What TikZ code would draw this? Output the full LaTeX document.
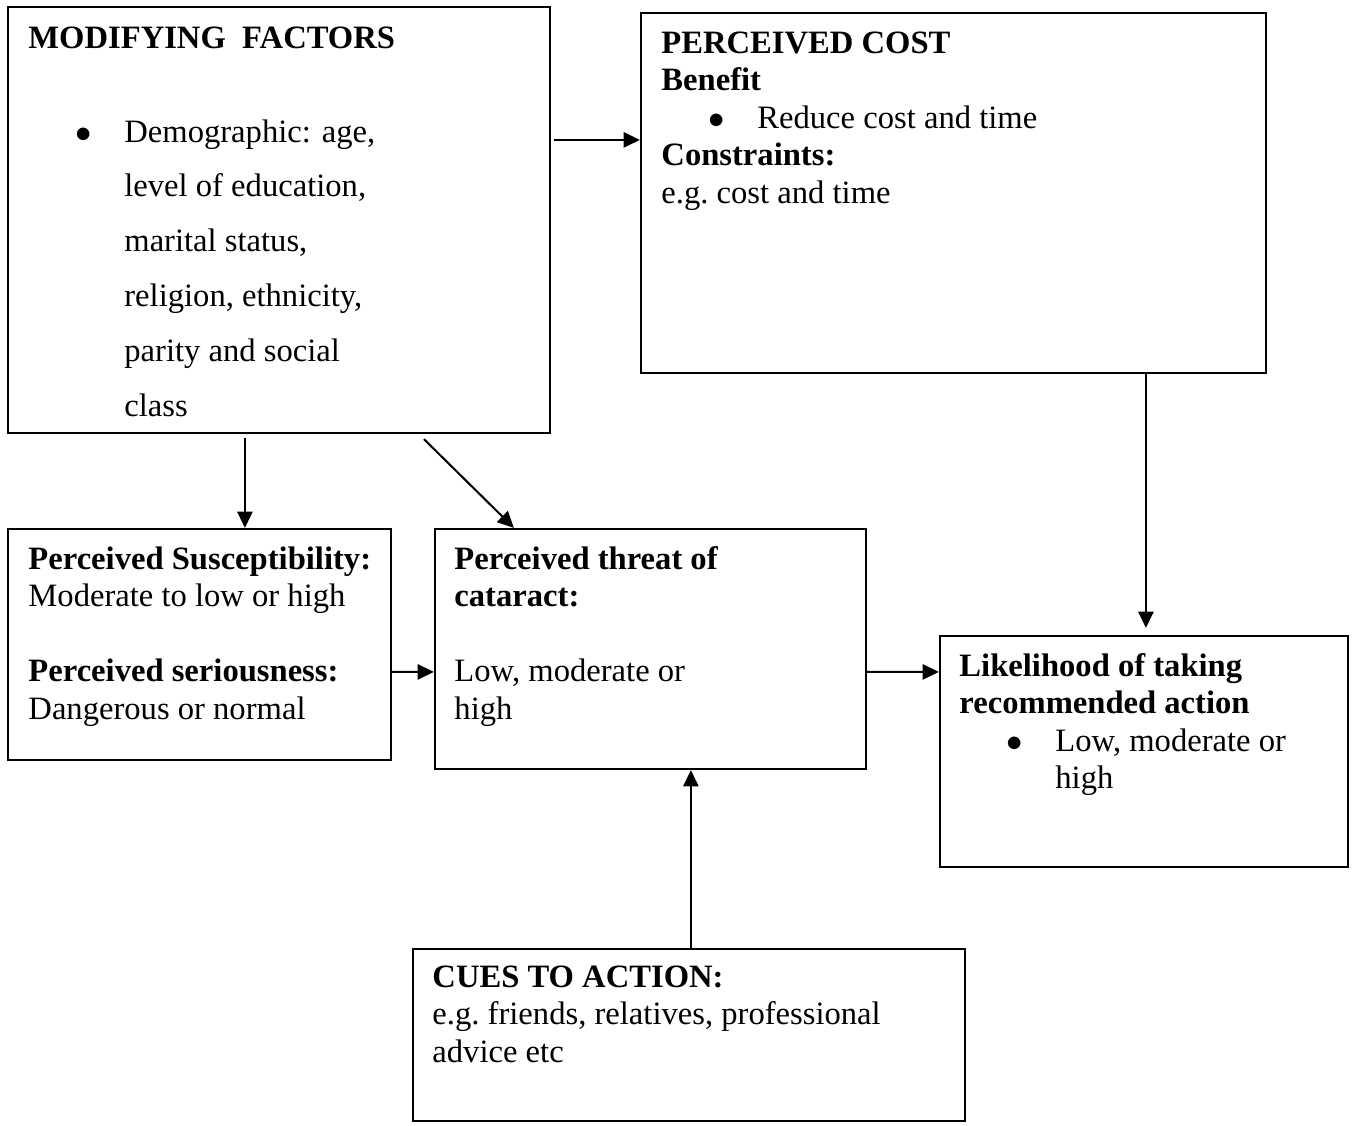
\documentclass[tikz,border=0pt]{standalone}
\usepackage{fontspec}
\setmainfont{Liberation Serif}
\usepackage{tikz}
\usetikzlibrary{arrows.meta,positioning,fit}
\newcommand{\bul}{\hspace*{17.2pt}\makebox[18.1pt][l]{$\bullet$}}
\newcommand{\hang}{\hspace*{35.3pt}}

\begin{document}
\begin{tikzpicture}[
  x=0.368pt, y=-0.368pt,
  every node/.style={font=\fontsize{12}{13.8}\selectfont},
  box/.style={rectangle, draw, line width=0.8pt, inner sep=0pt},
  txt/.style={anchor=north west, inner sep=0pt, align=left},
  arr/.style={-{Triangle[length=6pt,width=5.6pt]}, line width=0.75pt}
]
\path[use as bounding box] (0,0) rectangle (1355,1125);

% ---- Top row: factors and cost ----
\node[box, fit={(8,7)(550,433)}] (mod) {};
\node[txt, font=\fontsize{12}{20.2}\selectfont] (modtxt) at ([shift={(21,20)}]mod.north west)
  {\textbf{MODIFYING\ \ FACTORS}\\[14.4pt]
   \bul Demographic: age,\\ \hang level of education,\\ \hang marital status,\\
   \hang religion, ethnicity,\\ \hang parity and social\\ \hang class};

\node[box, fit={(641,13)(1266,373)}] (cost) {};
\node[txt] (costtxt) at ([shift={(21,19)}]cost.north west)
  {\textbf{PERCEIVED COST}\\ \textbf{Benefit}\\ \bul Reduce cost and time\\
   \textbf{Constraints:}\\ e.g.\ cost and time};

% ---- Middle row: perceptions and likelihood ----
\node[box, fit={(8,529)(391,760)}] (susc) {};
\node[txt] (susctxt) at ([shift={(21,18)}]susc.north west)
  {\textbf{Perceived Susceptibility:}\\ Moderate to low or high\\[13.8pt]
   \textbf{Perceived seriousness:}\\ Dangerous or normal};

\node[box, fit={(435,529)(866,769)}] (threat) {};
\node[txt] (threattxt) at ([shift={(20,18)}]threat.north west)
  {\textbf{Perceived threat of}\\ \textbf{cataract:}\\[13.8pt] Low, moderate or\\ high};

\node[box, fit={(940,636)(1348,867)}] (lik) {};
\node[txt] (liktxt) at ([shift={(20,18)}]lik.north west)
  {\textbf{Likelihood of taking}\\ \textbf{recommended action}\\
   \bul Low, moderate or\\ \hang high};

% ---- Bottom row: cues ----
\node[box, fit={(413,949)(965,1121)}] (cues) {};
\node[txt] (cuestxt) at ([shift={(20,17)}]cues.north west)
  {\textbf{CUES TO ACTION:}\\ e.g.\ friends, relatives, professional\\ advice etc};

% ---- Arrows ----
\draw[arr] ([shift={(3,134)}]mod.north east) -- ([shift={(0,128)}]cost.north west);
\draw[arr] ([shift={(238,4)}]mod.south west) -- ([shift={(238,0)}]susc.north west);
\draw[arr] ([shift={(417,5)}]mod.south west) -- ([shift={(80,0)}]threat.north west);
\draw[arr] ([shift={(0,144)}]susc.north east) -- ([shift={(0,144)}]threat.north west);
\draw[arr] ([shift={(0,144)}]threat.north east) -- ([shift={(0,37)}]lik.north west);
\draw[arr] ([shift={(506,0)}]cost.south west) -- ([shift={(207,-7)}]lik.north west);
\draw[arr] ([shift={(279,0)}]cues.north west) -- ([shift={(257,0)}]threat.south west);

\end{tikzpicture}
\end{document}
